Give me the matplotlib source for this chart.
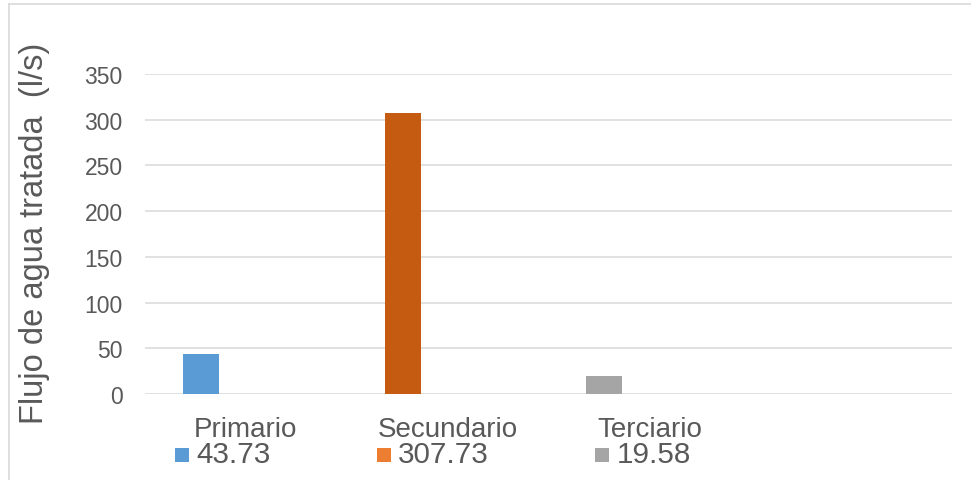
import matplotlib
matplotlib.use("Agg")
import matplotlib.pyplot as plt
from matplotlib.lines import Line2D
from matplotlib.patches import Rectangle

# --- data ---
categories = ["Primario", "Secundario", "Terciario", ""]
flow_values = [43.73, 307.73, 19.58]
value_labels = ["43.73", "307.73", "19.58"]
bar_colors = ["#5B9BD5", "#C55A11", "#A5A5A5"]
key_colors = ["#5B9BD5", "#ED7D31", "#A5A5A5"]
y_ticks = [0, 50, 100, 150, 200, 250, 300, 350]

TEXT = "#595959"
GRID = "#D9D9D9"
W, H, DPI = 971, 481, 100

plt.rcParams["font.family"] = ["Liberation Sans", "DejaVu Sans"]

fig = plt.figure(figsize=(W / DPI, H / DPI), dpi=DPI)
fig.patch.set_facecolor("white")

# plot area in pixel terms
left, right, top, bottom = 145, 952, 75, 395
ax = fig.add_axes([left / W, 1 - bottom / H, (right - left) / W, (bottom - top) / H])

ncat = len(categories)
bar_offset = -0.223
bar_width = 0.178
xs = [i + bar_offset for i in range(len(flow_values))]
ax.bar(xs, flow_values, width=bar_width, color=bar_colors, zorder=3)

ax.set_xlim(-0.5, ncat - 0.5)
ax.set_ylim(0, 350)
ax.set_yticks(y_ticks)
ax.set_xticks([])
ax.yaxis.grid(True, color=GRID, linewidth=1.1, zorder=0)
ax.set_axisbelow(True)
for s in ax.spines.values():
    s.set_visible(False)
ax.tick_params(axis="y", length=0, pad=16, labelsize=16.5, labelcolor=TEXT)

# category names, then colour key + value row beneath the axis
name_base = 437
value_base = 463
key_shift_px = [-71, -71, -54]
for i, name in enumerate(categories):
    if not name:
        continue
    cx_px = ax.transData.transform((i, 0))[0]
    fig.text(cx_px / W, 1 - name_base / H, name, ha="center", va="baseline",
             fontsize=20, color=TEXT)
    off = key_shift_px[i]
    key = Rectangle(((cx_px + off) / W, 1 - value_base / H), 14 / W, 14 / H,
                    facecolor=key_colors[i], edgecolor="none",
                    transform=fig.transFigure)
    fig.add_artist(key)
    fig.text((cx_px + off + 21) / W, 1 - value_base / H, value_labels[i],
             ha="left", va="baseline", fontsize=21.3, color=TEXT)

# y-axis title
fig.text(35 / W, 1 - 233 / H, "Flujo de agua tratada  (l/s)", rotation=90,
         ha="center", va="center", fontsize=23.5, color=TEXT)

# chart frame
fig.add_artist(Line2D([9 / W, 1.0], [1 - 5 / H, 1 - 5 / H], transform=fig.transFigure,
                      color="#D9D9D9", linewidth=1.2))
fig.add_artist(Line2D([9 / W, 9 / W], [0, 1 - 5 / H], transform=fig.transFigure,
                      color="#D9D9D9", linewidth=1.2))

fig.savefig("out.png", dpi=DPI, facecolor="white")
